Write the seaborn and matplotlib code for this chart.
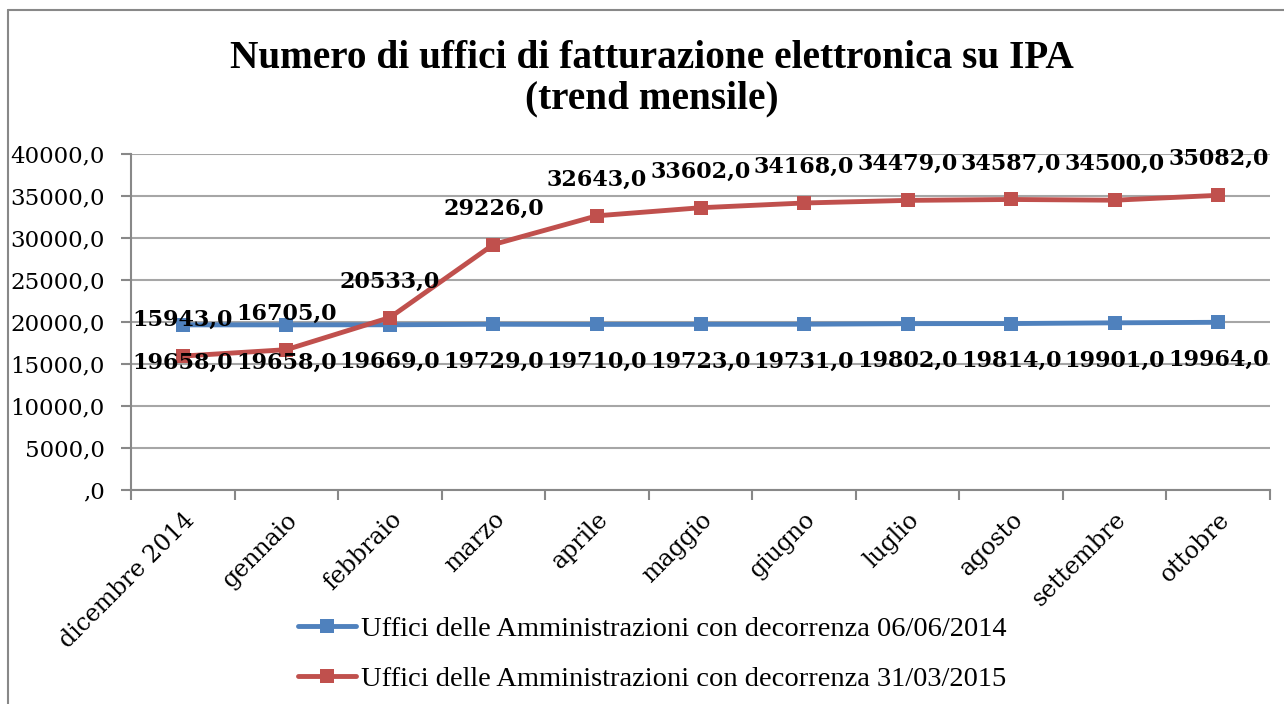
import numpy as np
import pandas as pd
import matplotlib
matplotlib.use("Agg")
import matplotlib.pyplot as plt
from matplotlib.lines import Line2D
from matplotlib.ticker import FuncFormatter, FixedLocator
import seaborn as sns

# Dati
mesi = ['dicembre 2014', 'gennaio', 'febbraio', 'marzo', 'aprile', 'maggio',
        'giugno', 'luglio', 'agosto', 'settembre', 'ottobre']
uffici_2014 = [19658, 19658, 19669, 19729, 19710, 19723, 19731, 19802, 19814, 19901, 19964]
uffici_2015 = [15943, 16705, 20533, 29226, 32643, 33602, 34168, 34479, 34587, 34500, 35082]
serie = ['Uffici delle Amministrazioni con decorrenza 06/06/2014',
         'Uffici delle Amministrazioni con decorrenza 31/03/2015']
colori = ['#4F81BD', '#C0504D']

df = pd.DataFrame({
    'pos': list(range(len(mesi))) * 2,
    'valore': uffici_2014 + uffici_2015,
    'serie': [serie[0]] * len(mesi) + [serie[1]] * len(mesi),
})

sns.set_style("white")
plt.rcParams['font.family'] = ['DejaVu Serif']
plt.rcParams['text.color'] = 'black'
plt.rcParams['xtick.color'] = 'black'
plt.rcParams['ytick.color'] = 'black'

fig = plt.figure(figsize=(12.84, 7.04), dpi=100)
ax = fig.add_axes([131 / 1284, 1 - 490 / 704, (1270 - 131) / 1284, (490 - 154) / 704])

sns.lineplot(data=df, x='pos', y='valore', hue='serie', palette=colori,
             marker='s', markersize=10, markeredgewidth=0, linewidth=3.5,
             ax=ax, legend=False)

# etichette dati
for i, v in enumerate(uffici_2015):
    ax.annotate(f"{v},0", (i, v), xytext=(0, 26), textcoords='offset points',
                ha='center', va='center', fontsize=16, fontweight='bold')
for i, v in enumerate(uffici_2014):
    ax.annotate(f"{v},0", (i, v), xytext=(0, -27), textcoords='offset points',
                ha='center', va='center', fontsize=16, fontweight='bold')

ax.set_xlim(-0.5, len(mesi) - 0.5)
ax.set_ylim(0, 40000)
ax.set_yticks(np.arange(0, 40001, 5000))
ax.yaxis.set_major_formatter(FuncFormatter(
    lambda v, p: ("%.1f" % v).replace('.', ',') if v != 0 else ",0"))
ax.set_xticks(range(len(mesi)))
ax.set_xticklabels(mesi, rotation=45, ha='right', rotation_mode='anchor')
ax.xaxis.set_minor_locator(FixedLocator(np.arange(-0.5, len(mesi), 1)))
ax.tick_params(axis='x', which='major', length=0, pad=13, labelsize=17)
ax.tick_params(axis='x', which='minor', length=7, width=1.5, color='#888888',
               direction='out', bottom=True)
ax.tick_params(axis='y', length=7, width=1.5, color='#888888', direction='out',
               left=True, labelsize=16.5, pad=12)
ax.set_xlabel('')
ax.set_ylabel('')
ax.grid(axis='y', color='#A6A6A6', linewidth=1.5)
for s in ['top', 'right']:
    ax.spines[s].set_visible(False)
for s in ['left', 'bottom']:
    ax.spines[s].set_color('#888888')
    ax.spines[s].set_linewidth(1.5)

fig.text(652 / 1284, 1 - 79 / 704,
         "Numero di uffici di fatturazione elettronica su IPA\n(trend mensile)",
         ha='center', va='center', fontsize=28.3, fontweight='bold',
         family=['Liberation Serif'], linespacing=1.12)

handles = [Line2D([], [], color=c, marker='s', markersize=10, markeredgewidth=0,
                  linewidth=3.5) for c in colori]
fig.legend(handles, serie, loc='center', bbox_to_anchor=(652 / 1284, 1 - 654 / 704),
           frameon=False, ncol=1, handlelength=2.05, handletextpad=0.15,
           labelspacing=0.85, prop={'family': 'Liberation Serif', 'size': 20.5})

# bordo del grafico
fig.add_artist(Line2D([8 / 1284, 8 / 1284], [0, 1 - 10 / 704], color='#888888',
                      linewidth=1.5, transform=fig.transFigure))
fig.add_artist(Line2D([8 / 1284, 1], [1 - 10 / 704, 1 - 10 / 704], color='#888888',
                      linewidth=1.5, transform=fig.transFigure))

fig.savefig('out.png', dpi=100)
